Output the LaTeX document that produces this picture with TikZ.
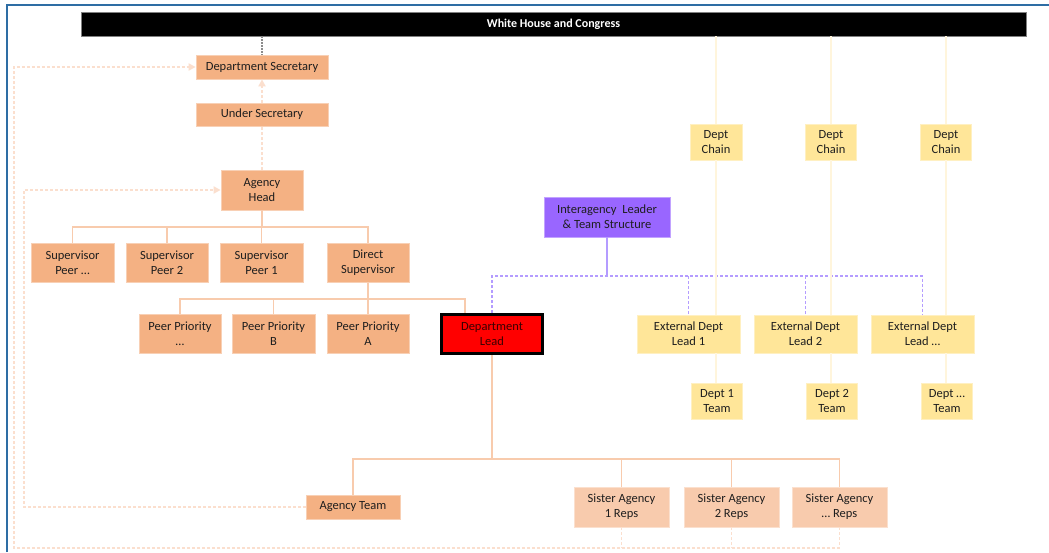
\documentclass[tikz,border=0pt]{standalone}
\usepackage{fontspec}
\setmainfont{Carlito}
\usetikzlibrary{arrows.meta}
\definecolor{orfill}{HTML}{F4B183}
\definecolor{safill}{HTML}{F8CBAD}
\definecolor{yefill}{HTML}{FFE699}
\definecolor{pufill}{HTML}{9966FF}
\definecolor{orline}{HTML}{F8CBAD}
\definecolor{loopline}{HTML}{FBDFCE}
\definecolor{yeline}{HTML}{FFF5DC}
\definecolor{puline}{HTML}{B49CFF}
\definecolor{txt}{HTML}{1E1E1E}
\definecolor{frameblue}{HTML}{2E6DA4}
\definecolor{leadtxt}{HTML}{3A0000}
\tikzset{
  every node/.style={font=\fontsize{12.5}{15}\selectfont, text=txt, align=center, inner sep=0pt},
  obox/.style={fill=orfill, draw=orfill!60!white, line width=0.8pt},
  sbox/.style={fill=safill, draw=safill!60!white, line width=0.8pt},
  ybox/.style={fill=yefill, draw=yefill!60!white, line width=0.8pt},
  pbox/.style={fill=pufill, draw=pufill!60!white, line width=0.8pt},
  leadbox/.style={fill=red, draw=black, line width=3pt, text=leadtxt},
  barbox/.style={fill=black, draw=black!50, line width=0.8pt, text=white, font=\fontsize{12}{14}\selectfont\bfseries},
  oline/.style={draw=orline, line width=1.5pt},
  yline/.style={draw=yeline, line width=1.5pt},
  pline/.style={draw=puline, line width=1.2pt},
  pdash/.style={draw=puline, line width=1.2pt, dash pattern=on 3pt off 2pt},
  loopd/.style={draw=loopline, line width=1.8pt, dash pattern=on 3pt off 2pt},
  tipo/.style={-{Triangle[length=7pt,width=7pt]}},
  grayd/.style={draw=black!45, line width=1.3pt, dash pattern=on 1.5pt off 1.5pt}
}
\begin{document}
\begin{tikzpicture}[x=1pt,y=-1pt]
\useasboundingbox[fill=white] (0,0) rectangle (1049,552);
\draw[frameblue, line width=1.5pt] (7,552) -- (7,5) -- (1049,5);

% nodes
\node[barbox, minimum width=945pt, minimum height=24pt] (wh) at (553.5,24) {White House and Congress};
\node[obox, minimum width=132pt, minimum height=24pt] (sec) at (262,67) {Department Secretary};
\node[obox, minimum width=132pt, minimum height=23pt] (usec) at (262,114.5) {Under Secretary};
\node[obox, minimum width=82pt, minimum height=40pt] (ahead) at (262,190) {Agency\\Head};

\node[obox, minimum width=83pt, minimum height=39pt] (sp3) at (72.5,263) {Supervisor\\Peer \dots};
\node[obox, minimum width=82pt, minimum height=39pt] (sp2) at (167,263) {Supervisor\\Peer 2};
\node[obox, minimum width=83pt, minimum height=39pt] (sp1) at (261.5,263) {Supervisor\\Peer 1};
\node[obox, minimum width=82pt, minimum height=39pt] (dsup) at (368,263) {Direct\\Supervisor};

\node[obox, minimum width=82pt, minimum height=39pt] (pp3) at (180,334) {Peer Priority\\\dots};
\node[obox, minimum width=83pt, minimum height=39pt] (ppb) at (273.5,334) {Peer Priority\\B};
\node[obox, minimum width=82pt, minimum height=39pt] (ppa) at (368,334) {Peer Priority\\A};
\node[leadbox, minimum width=101pt, minimum height=39pt] (dlead) at (492,334) {Department\\Lead};

\node[pbox, minimum width=126pt, minimum height=40pt] (inter) at (607,217) {Interagency\ \ Leader\\\&\ Team Structure};

\node[ybox, minimum width=52pt, minimum height=36pt] (chain1) at (716,142) {Dept\\Chain};
\node[ybox, minimum width=51pt, minimum height=36pt] (chain2) at (831,142) {Dept\\Chain};
\node[ybox, minimum width=51pt, minimum height=36pt] (chain3) at (946,142) {Dept\\Chain};

\node[ybox, minimum width=103pt, minimum height=38pt] (ext1) at (688.5,334) {External Dept\\Lead 1};
\node[ybox, minimum width=103pt, minimum height=38pt] (ext2) at (805.5,334) {External Dept\\Lead 2};
\node[ybox, minimum width=103pt, minimum height=38pt] (ext3) at (922.5,334) {External Dept\\Lead \dots};

\node[ybox, minimum width=51pt, minimum height=36pt] (team1) at (717,401) {Dept 1\\Team};
\node[ybox, minimum width=51pt, minimum height=36pt] (team2) at (832,401) {Dept 2\\Team};
\node[ybox, minimum width=51pt, minimum height=36pt] (team3) at (947,401) {Dept \dots\\Team};

\node[obox, minimum width=94pt, minimum height=24pt] (ateam) at (353,507) {Agency Team};
\node[sbox, minimum width=95pt, minimum height=40pt] (sa1) at (621.5,507) {Sister Agency\\1 Reps};
\node[sbox, minimum width=95pt, minimum height=40pt] (sa2) at (731.5,507) {Sister Agency\\2 Reps};
\node[sbox, minimum width=95pt, minimum height=40pt] (sa3) at (839.5,507) {Sister Agency\\\dots\ Reps};

% helper coordinates
\coordinate (bar1) at (262,227);
\coordinate (bar2) at (368,299);
\coordinate (bar3) at (492,459);
\coordinate (bar4) at (607,276);
\coordinate (leadin) at (465,313);
\coordinate (outc) at (14,548);
\coordinate (innc) at (24,507);

% vertical chain (top)
\draw[grayd] (wh.south -| sec.north) -- (sec.north);
\draw[loopd, tipo] (usec.north) -- (sec.south);
\draw[loopd] (ahead.north) -- (usec.south);

% tree 1
\draw[oline] (ahead.south) -- (bar1);
\draw[oline] (sp3.north) |- (dsup.north |- bar1) -- (dsup.north);
\draw[oline] (sp2.north) -- (sp2.north |- bar1);
\draw[oline] (sp1.north) -- (sp1.north |- bar1);

% tree 2
\draw[oline] (dsup.south) -- (bar2);
\draw[oline] (pp3.north) |- (leadin |- bar2) -- (leadin);
\draw[oline] (ppb.north) -- (ppb.north |- bar2);
\draw[oline] (ppa.north) -- (ppa.north |- bar2);

% tree 3
\draw[oline] (dlead.south) -- (bar3);
\draw[oline] (ateam.north) |- (sa3.north |- bar3) -- (sa3.north);
\draw[oline] (sa1.north) -- (sa1.north |- bar3);
\draw[oline] (sa2.north) -- (sa2.north |- bar3);

% purple
\draw[pline] (inter.south) -- (bar4);
\draw[pdash] (dlead.north) |- (ext3.north |- bar4) -- (ext3.north);
\draw[pdash] (ext1.north |- bar4) -- (ext1.north);
\draw[pdash] (ext2.north |- bar4) -- (ext2.north);

% yellow chains
\draw[yline] (chain1.north |- wh.south) -- (chain1.north);
\draw[yline] (chain2.north |- wh.south) -- (chain2.north);
\draw[yline] (chain3.north |- wh.south) -- (chain3.north);
\draw[yline] (chain1.south) -- (chain1.south |- ext1.north);
\draw[yline] (chain2.south) -- (chain2.south |- ext2.north);
\draw[yline] (chain3.south) -- (chain3.south |- ext3.north);
\draw[yline] (chain1.south |- ext1.south) -- (chain1.south |- team1.north);
\draw[yline] (chain2.south |- ext2.south) -- (chain2.south |- team2.north);
\draw[yline] (chain3.south |- ext3.south) -- (chain3.south |- team3.north);

% loops
\draw[loopd] (sa1.south) -- (sa1.south |- outc);
\draw[loopd] (sa2.south) -- (sa2.south |- outc);
\draw[loopd, tipo] (sa3.south) |- (outc) |- (sec.west);
\draw[loopd, tipo] (ateam.west) -- (innc) |- (ahead.west);
\end{tikzpicture}
\end{document}
